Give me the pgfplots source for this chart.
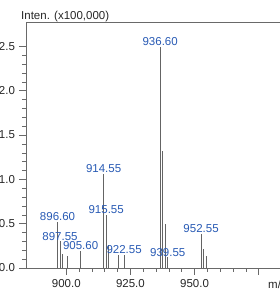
\documentclass[border=0pt]{standalone}
\usepackage{fontspec}
\setmainfont{Liberation Sans}
\usepackage{pgfplots}
\pgfplotsset{compat=1.18}
\definecolor{axgray}{RGB}{105,105,105}
\definecolor{pk}{RGB}{100,100,100}
\definecolor{lblue}{RGB}{40,90,180}
\begin{document}
\fontsize{11.5}{13}\selectfont
\begin{tikzpicture}
\begin{axis}[
  at={(0,0)}, anchor=south west,
  scale only axis, width=270pt, height=246pt,
  xmin=884.3, xmax=989.56, ymin=0, ymax=2.775,
  axis line style={axgray, line width=0.6pt},
  tick pos=left, tick align=outside,
  major tick length=7pt, minor tick length=4pt,
  tick style={axgray, line width=0.5pt},
  xtick={900,925,950,975}, minor x tick num=4,
  ytick={0,0.5,1,1.5,2,2.5}, minor y tick num=4,
  xticklabels={900.0,925.0,950.0,},
  tick label style={font=\fontsize{11.5}{13}\selectfont, text=black!85},
  yticklabel style={/pgf/number format/.cd, fixed, fixed zerofill, precision=1, assume math mode=true},
  clip=false,
]
\addplot[ycomb, pk, line width=0.7pt, mark=none] table {
x y
896.60 0.52
897.55 0.30
898.55 0.16
900.55 0.13
905.60 0.19
914.55 1.06
915.55 0.60
916.55 0.26
920.20 0.15
922.55 0.15
936.60 2.49
937.60 1.32
938.60 0.50
939.55 0.12
952.55 0.38
953.55 0.21
954.55 0.14
};
\addplot[ycomb, draw=none, mark=none, nodes near coords, point meta=explicit symbolic,
  every node near coord/.style={text=lblue, font=\fontsize{11.5}{13}\selectfont, anchor=south, inner sep=0pt, yshift=1pt}]
  table[meta=lab] {
x y lab
896.60 0.52 896.60
897.55 0.30 897.55
905.60 0.19 905.60
914.55 1.06 914.55
915.55 0.60 915.55
922.55 0.15 922.55
936.60 2.49 936.60
939.55 0.12 939.55
952.55 0.38 952.55
};
\end{axis}
\node[anchor=base west, inner sep=0pt, text=black!85] at (-5pt,248.5pt) {Inten. (x100,000)};
\node[anchor=base west, inner sep=0pt, text=black!85] at (242pt,-20pt) {m/z};
\pgfresetboundingbox
\useasboundingbox (-26pt,-23pt) rectangle (254pt,268pt);
\end{tikzpicture}
\end{document}
